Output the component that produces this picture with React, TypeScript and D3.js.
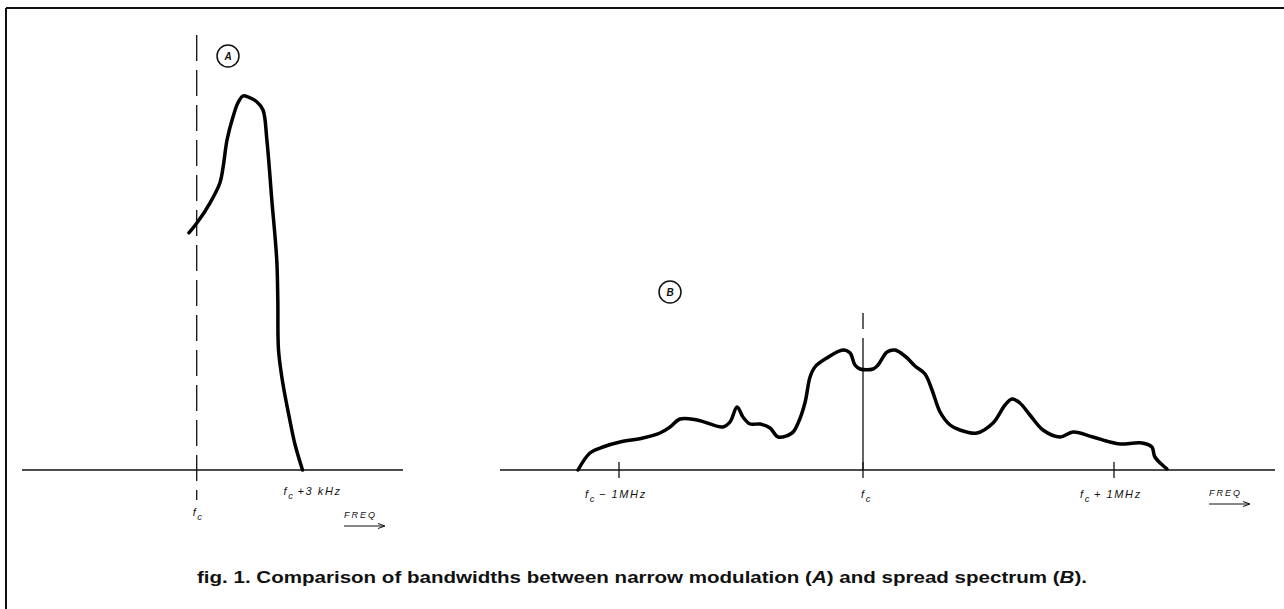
import React from 'react';
import * as d3 from 'd3';

// (A) narrow modulation: offset from fc in kHz, relative amplitude
const narrowFreq = [-0.22, 0.01, 0.38, 0.66, 0.75, 0.86, 1.03, 1.17, 1.31, 1.45, 1.71, 1.88, 1.99, 2.13, 2.27, 2.3, 2.32, 2.44, 2.64, 2.79, 3.0];
const narrowAmp = [59.3, 61.8, 66.8, 71.8, 75.8, 82.5, 88.3, 91.8, 93.5, 93.3, 92, 90, 82.5, 67.5, 52.5, 42.5, 30, 21.8, 12.5, 6.3, 0];

// (B) spread spectrum: offset from fc in MHz, relative amplitude
const spreadFreq = [-1.168, -1.119, -1.066, -0.996, -0.902, -0.832, -0.791, -0.75, -0.68, -0.574, -0.545, -0.516, -0.492, -0.463, -0.422, -0.381, -0.348, -0.291, -0.266, -0.238, -0.217, -0.197, -0.148, -0.082, -0.053, -0.033, -0.012, 0.04, 0.06, 0.096, 0.127, 0.167, 0.207, 0.247, 0.275, 0.307, 0.347, 0.386, 0.454, 0.518, 0.566, 0.594, 0.625, 0.665, 0.717, 0.785, 0.837, 0.916, 0.984, 1.024, 1.112, 1.151, 1.163, 1.211];
const spreadAmp = [0, 4.25, 5.75, 7, 8, 9.25, 10.75, 12.75, 12.5, 10.75, 12, 15.75, 13.25, 11.5, 11.5, 10.5, 8.25, 9.25, 11.75, 16.75, 23.25, 25.75, 28, 30, 29.25, 26.25, 25.25, 25.25, 26.25, 29.5, 30, 28.5, 26, 24, 20, 14.5, 11.25, 10, 9.25, 11.75, 16.25, 17.75, 16.75, 13.75, 10, 8.25, 9.5, 8.25, 7, 6.5, 6.75, 5.75, 3.25, 0.25];

const spreadTicks = [-1, 0, 1];
const spreadTickLabels = ['\u2212 1MHz', '', '+ 1MHz'];

const caption = 'fig. 1. Comparison of bandwidths between narrow modulation (';

const W = 1284;
const H = 609;
const baseY = 470;
const font = '"Liberation Sans", Arial, sans-serif';
const captionFont = '"Liberation Sans Narrow", "Liberation Sans", Arial, sans-serif';

const FcLabel = ({ x, y, suffix, size = 11 }: { x: number; y: number; suffix: string; size?: number }) => (
  <text x={x} y={y} fontFamily={font} fontStyle="italic" fontSize={size} letterSpacing={1.6} fill="#111">
    <tspan>f</tspan>
    <tspan dy={4} fontSize={size * 0.85}>c</tspan>
    {suffix ? <tspan dy={-4} dx={3}>{suffix}</tspan> : null}
  </text>
);

const FreqArrow = ({ x, y }: { x: number; y: number }) => (
  <g>
    <text x={x} y={y} fontFamily={font} fontStyle="italic" fontSize={9} letterSpacing={2} fill="#111">FREQ</text>
    <line x1={x} x2={x + 40} y1={y + 8} y2={y + 8} stroke="#111" strokeWidth={1} />
    <path d={`M${x + 34},${y + 5.5} L${x + 41},${y + 8} L${x + 34},${y + 10.5}`} fill="none" stroke="#111" strokeWidth={1} />
  </g>
);

const CircleLabel = ({ x, y, label }: { x: number; y: number; label: string }) => (
  <g>
    <circle cx={x} cy={y} r={11} fill="none" stroke="#111" strokeWidth={1.5} />
    <text x={x} y={y + 3.5} textAnchor="middle" fontFamily={font} fontStyle="italic" fontWeight="bold" fontSize={10} fill="#111">{label}</text>
  </g>
);

export default function App() {
  const amp = d3.scaleLinear().domain([0, 100]).range([baseY, 70]);
  const xA = d3.scaleLinear().domain([0, 3]).range([196.7, 302.5]);
  const xB = d3.scaleLinear().domain([-1, 0, 1]).range([619, 863, 1114]);

  const lineGen = d3.line<[number, number]>().curve(d3.curveCatmullRom.alpha(0.5));

  const pathA = lineGen(narrowFreq.map((f, i) => [xA(f), amp(narrowAmp[i])]));
  const pathB = lineGen(spreadFreq.map((f, i) => [xB(f), amp(spreadAmp[i])]));

  return (
    <svg width={W} height={H} style={{ position: 'absolute', left: 0, top: 0, background: '#fff' }}>
      {/* frame */}
      <line x1={6} x2={W} y1={8} y2={8} stroke="#111" strokeWidth={2} />
      <line x1={6} x2={6} y1={8} y2={H} stroke="#111" strokeWidth={2} />

      {/* panel A */}
      <line x1={22} x2={403} y1={baseY} y2={baseY} stroke="#111" strokeWidth={1.5} />
      <line x1={xA(0)} x2={xA(0)} y1={35} y2={500} stroke="#111" strokeWidth={1.3} strokeDasharray="26 9" />
      <path d={pathA ?? ''} fill="none" stroke="#000" strokeWidth={3.5} strokeLinejoin="round" strokeLinecap="round" />
      <CircleLabel x={228} y={56} label="A" />
      <FcLabel x={xA(0) - 4} y={516} suffix="" />
      <FcLabel x={xA(3) - 19} y={495} suffix="+3 kHz" />
      <FreqArrow x={344} y={518} />

      {/* panel B */}
      <line x1={500} x2={1275} y1={baseY} y2={baseY} stroke="#111" strokeWidth={1.5} />
      {spreadTicks.map((t, i) => (
        <g key={t}>
          <line x1={xB(t)} x2={xB(t)} y1={baseY - 8} y2={baseY + 8} stroke="#111" strokeWidth={1.3} />
          <FcLabel x={xB(t) - (spreadTickLabels[i] ? 34 : 2)} y={498} suffix={spreadTickLabels[i]} />
        </g>
      ))}
      <line x1={xB(0)} x2={xB(0)} y1={313} y2={baseY} stroke="#111" strokeWidth={1.3} strokeDasharray="16 9 200" />
      <path d={pathB ?? ''} fill="none" stroke="#000" strokeWidth={3.5} strokeLinejoin="round" strokeLinecap="round" />
      <CircleLabel x={670} y={292} label="B" />
      <FreqArrow x={1209} y={496} />

      {/* caption */}
      <text x={642} y={583} textAnchor="middle" fontFamily={captionFont} fontWeight="bold" fontSize={17} fill="#111" textLength={890} lengthAdjust="spacingAndGlyphs">
        {caption}
        <tspan fontStyle="italic">A</tspan>
        {') and spread spectrum ('}
        <tspan fontStyle="italic">B</tspan>
        {').'}
      </text>
    </svg>
  );
}
